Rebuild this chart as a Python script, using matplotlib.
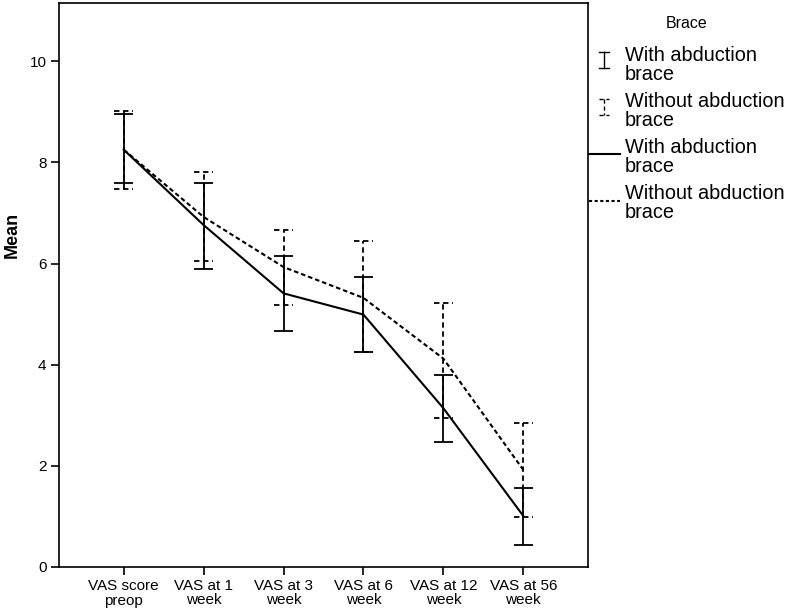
import matplotlib.pyplot as plt
from matplotlib.lines import Line2D

plt.rcParams['font.family'] = ['Liberation Sans', 'DejaVu Sans']

labels = ['VAS score\npreop', 'VAS at 1\nweek', 'VAS at 3\nweek',
          'VAS at 6\nweek', 'VAS at 12\nweek', 'VAS at 56\nweek']

with_mean = [8.25, 6.76, 5.41, 4.99, 3.14, 1.01]
with_lo = [7.60, 5.89, 4.66, 4.26, 2.48, 0.43]
with_hi = [8.95, 7.60, 6.15, 5.73, 3.79, 1.56]

without_mean = [8.25, 6.92, 5.93, 5.32, 4.12, 1.92]
without_lo = [7.48, 6.05, 5.17, 4.26, 2.95, 0.99]
without_hi = [9.02, 7.81, 6.66, 6.44, 5.22, 2.84]

x = list(range(len(labels)))
cw = 0.12

W, H = 788, 610
fig = plt.figure(figsize=(W / 100, H / 100), dpi=100)
ax = fig.add_axes([59 / W, (H - 567) / H, (588 - 59) / W, (567 - 3) / H])

# with brace: solid
ax.plot(x, with_mean, color='black', lw=1.5, ls='-')
ax.vlines(x, with_lo, with_hi, color='black', lw=1.3)
ax.hlines(with_lo, [i - cw for i in x], [i + cw for i in x], color='black', lw=1.3)
ax.hlines(with_hi, [i - cw for i in x], [i + cw for i in x], color='black', lw=1.3)

# without brace: dashed
ax.plot(x, without_mean, color='black', lw=1.5, ls=(0, (2.2, 1.4)))
ax.vlines(x, without_lo, without_hi, color='black', lw=1.3, linestyles=(0, (3, 2)))
ax.hlines(without_lo, [i - cw for i in x], [i + cw for i in x], color='black', lw=1.3,
          linestyles=(0, (3, 2)))
ax.hlines(without_hi, [i - cw for i in x], [i + cw for i in x], color='black', lw=1.3,
          linestyles=(0, (3, 2)))

ax.set_xlim(-0.81, 5.81)
ax.set_ylim(0, 11.15)
ax.set_xticks(x)
ax.set_xticklabels(labels, fontsize=10.5, linespacing=1.0)
ax.set_yticks([0, 2, 4, 6, 8, 10])
ax.tick_params(axis='both', direction='out', length=6, width=1.2, labelsize=11, pad=3)
for s in ax.spines.values():
    s.set_linewidth(1.2)

fig.text(12 / W, 1 - 235 / H, 'Mean', rotation=90, fontsize=13, fontweight='bold',
         ha='center', va='center')

# legend drawn in figure pixel coordinates
def px(xp, yp):
    return xp / W, 1 - yp / H

fig.text(*px(687, 23), 'Brace', fontsize=11.5, ha='center', va='center')

entries = [('With abduction\nbrace', 65), ('Without abduction\nbrace', 111),
           ('With abduction\nbrace', 157), ('Without abduction\nbrace', 203)]
for txt, yc in entries:
    fig.text(*px(625, yc), txt, fontsize=14.3, ha='left', va='center', linespacing=0.98)

# error bar symbols
xs = 604
fig.add_artist(Line2D([px(xs, 52)[0]] * 2, [px(xs, 52)[1], px(xs, 68)[1]], color='black', lw=1))
fig.add_artist(Line2D([px(xs - 5, 52)[0], px(xs + 5, 52)[0]], [px(xs, 52)[1]] * 2, color='black', lw=1))
fig.add_artist(Line2D([px(xs - 5, 68)[0], px(xs + 5, 68)[0]], [px(xs, 68)[1]] * 2, color='black', lw=1))
fig.add_artist(Line2D([px(xs, 99)[0]] * 2, [px(xs, 99)[1], px(xs, 115)[1]], color='black', lw=1,
                      ls=(0, (3, 2))))
fig.add_artist(Line2D([px(xs - 5, 99)[0], px(xs + 5, 99)[0]], [px(xs, 99)[1]] * 2, color='black', lw=1,
                      ls=(0, (3, 2))))
fig.add_artist(Line2D([px(xs - 5, 115)[0], px(xs + 5, 115)[0]], [px(xs, 115)[1]] * 2, color='black', lw=1,
                      ls=(0, (3, 2))))
# line symbols
fig.add_artist(Line2D([px(589, 0)[0], px(620, 0)[0]], [px(0, 154)[1]] * 2, color='black', lw=1.5))
fig.add_artist(Line2D([px(589, 0)[0], px(620, 0)[0]], [px(0, 201)[1]] * 2, color='black', lw=1.5,
                      ls=(0, (1.5, 1.2))))

fig.savefig('out.png', dpi=100, facecolor='white')
